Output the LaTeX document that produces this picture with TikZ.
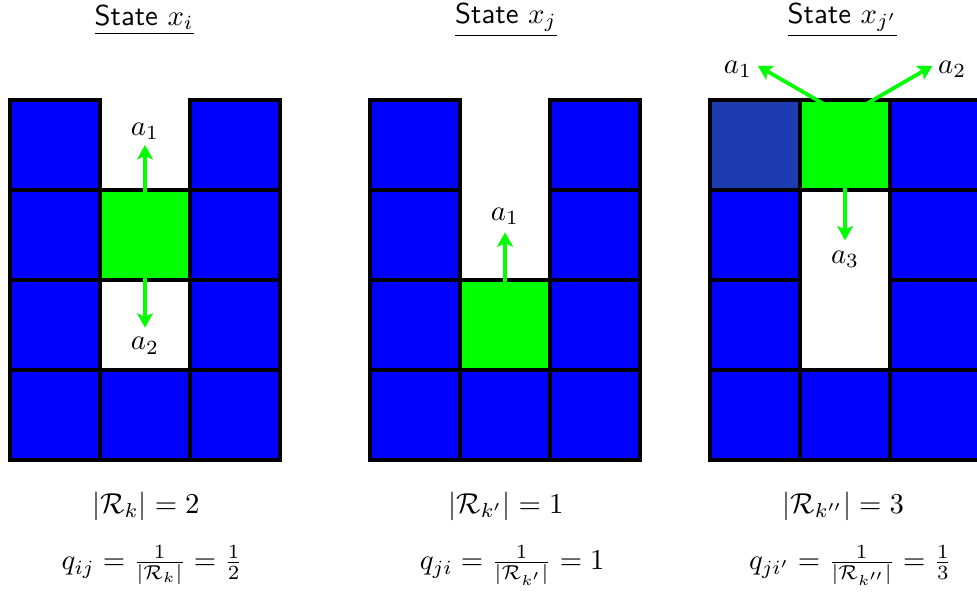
\documentclass[tikz,border=0pt]{standalone}
\usepackage{tikz}
\usetikzlibrary{arrows.meta,positioning}
\definecolor{wallblue}{RGB}{0,0,255}
\definecolor{agentgreen}{RGB}{0,255,0}
\definecolor{visitblue}{RGB}{30,60,178}
\tikzset{
  cell/.style={draw=black, line width=1.4pt, minimum size=1.1cm, inner sep=0pt, outer sep=0pt},
  wall/.style={cell, fill=wallblue},
  agent/.style={cell, fill=agentgreen},
  visited/.style={cell, fill=visitblue},
  move/.style={-{Stealth[length=5pt,width=5.5pt,inset=1.2pt]}, line width=1.3pt, draw=agentgreen},
  title/.style={inner sep=1pt},
  act/.style={inner sep=1pt}
}

\begin{document}
\begin{tikzpicture}[x=1.1cm, y=1.1cm]
  \useasboundingbox (-0.111,-1.467) rectangle (10.744,5.111);

  % state x_i
  \begin{scope}
    \foreach \c/\r in {0/0,1/0,2/0,0/1,2/1,0/2,2/2,0/3,2/3}
      \node[wall] (L-\c-\r) at (\c+0.5,\r+0.5) {};
    \node[agent] (L-1-2) at (1.5,2.5) {};
    \coordinate (Lup) at (1.5,3.5);
    \coordinate (Ldown) at (1.5,1.47);
    \node[act] (La1) at (1.5,3.65) {$a_1$};
    \node[act] (La2) at (1.5,1.27) {$a_2$};
    \node[title] (Ltitle) at (1.49,4.89) {\underline{\textsf{State} $x_i$}};
    \node (Lsize) at (1.51,-0.51) {$|\mathcal{R}_k| = 2$};
    \node (Lprob) at (1.58,-1.17) {$q_{ij} = \frac{1}{|\mathcal{R}_k|} = \frac{1}{2}$};
  \end{scope}

  % state x_j
  \begin{scope}[shift={(4,0)}]
    \foreach \c/\r in {0/0,1/0,2/0,0/1,2/1,0/2,2/2,0/3,2/3}
      \node[wall] (M-\c-\r) at (\c+0.5,\r+0.5) {};
    \node[agent] (M-1-1) at (1.5,1.5) {};
    \coordinate (Mup) at (1.5,2.53);
    \node[act] (Ma1) at (1.5,2.71) {$a_1$};
    \node[title] (Mtitle) at (1.51,4.89) {\underline{\textsf{State} $x_j$}};
    \node (Msize) at (1.51,-0.51) {$|\mathcal{R}_{k'}| = 1$};
    \node (Mprob) at (1.58,-1.17) {$q_{ji} = \frac{1}{|\mathcal{R}_{k'}|} = 1$};
  \end{scope}

  % state x_j'
  \begin{scope}[shift={(7.778,0)}]
    \foreach \c/\r in {0/0,1/0,2/0,0/1,2/1,0/2,2/2,2/3}
      \node[wall] (R-\c-\r) at (\c+0.5,\r+0.5) {};
    \node[visited] (R-0-3) at (0.5,3.5) {};
    \node[agent] (R-1-3) at (1.5,3.5) {};
    \coordinate (Rsrc) at (1.5,3.82);
    \coordinate (Rleft) at (0.53,4.38);
    \coordinate (Rright) at (2.47,4.38);
    \coordinate (Rdown) at (1.5,2.44);
    \node[act] (Ra1) at (0.31,4.34) {$a_1$};
    \node[act] (Ra2) at (2.69,4.34) {$a_2$};
    \node[act] (Ra3) at (1.5,2.23) {$a_3$};
    \node[title] (Rtitle) at (1.47,4.89) {\underline{\textsf{State} $x_{j'}$}};
    \node (Rsize) at (1.48,-0.51) {$|\mathcal{R}_{k''}| = 3$};
    \node (Rprob) at (1.56,-1.17) {$q_{ji'} = \frac{1}{|\mathcal{R}_{k''}|} = \frac{1}{3}$};
  \end{scope}

  \draw[move] (L-1-2.center) -- (Lup);
  \draw[move] (L-1-2.center) -- (Ldown);
  \draw[move] (M-1-1.center) -- (Mup);
  \draw[move] (Rsrc) -- (Rleft);
  \draw[move] (Rsrc) -- (Rright);
  \draw[move] (R-1-3.center) -- (Rdown);
\end{tikzpicture}
\end{document}
